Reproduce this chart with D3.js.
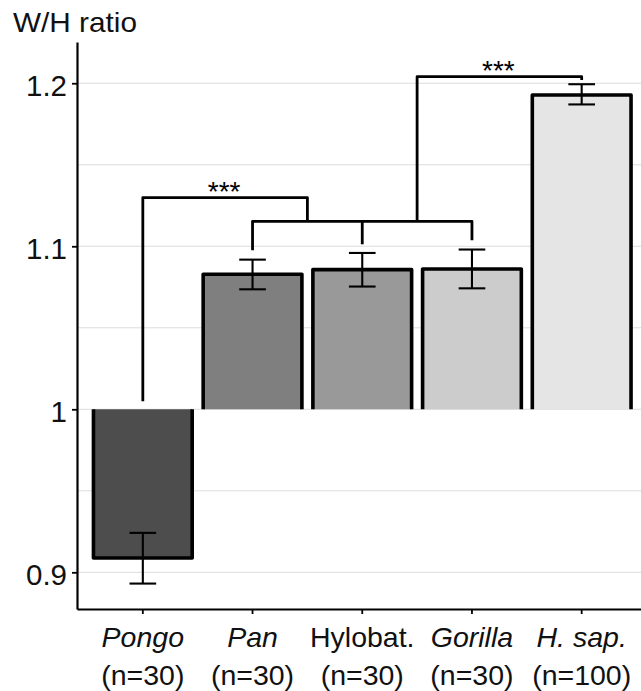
<!DOCTYPE html>
<html>
<head>
<meta charset="utf-8">
<script src="https://cdn.jsdelivr.net/npm/d3@7"></script>
<style>
  body { margin: 0; background: #fff; }
  svg { display: block; font-family: "Liberation Sans", Arial, Helvetica, sans-serif; }
</style>
</head>
<body>
<div id="chart"></div>
<script>
// data
const categories = ["Pongo", "Pan", "Hylobat.", "Gorilla", "H. sap."];
const sampleSizes = ["(n=30)", "(n=30)", "(n=30)", "(n=30)", "(n=100)"];
const italicLabel = [true, true, false, true, true];
const meanRatio = [0.9088, 1.0828, 1.0857, 1.0861, 1.1928];
const errLow = [0.8931, 1.0736, 1.0753, 1.0742, 1.1870];
const errHigh = [0.9242, 1.0918, 1.0959, 1.0980, 1.1994];
const barFills = ["#4d4d4d", "#7f7f7f", "#999999", "#cccccc", "#e5e5e5"];

const yTicks = [0.9, 1, 1.1, 1.2];
const yTickLabels = ["0.9", "1", "1.1", "1.2"];
const yMinorTicks = [0.95, 1.05, 1.15];

// comb joining the three non-human apes
const combMembers = ["Pan", "Hylobat.", "Gorilla"];
const combEnds = [1.0975, 1.1012, 1.1037];
const combLevel = 1.1153;

// significance brackets
const bracketLeft = [["Pongo"], ["Hylobat.", "Gorilla"]];
const bracketRight = [["Pan", "Hylobat."], ["H. sap."]];
const bracketLeftEnd = [1.0049, 1.1153];
const bracketRightEnd = [1.1153, 1.2020];
const bracketLevel = [1.1299, 1.2040];
const bracketLabels = ["***", "***"];

const W = 641, H = 691;
const baseline = 1;

const svg = d3.select("#chart").append("svg")
    .attr("width", W)
    .attr("height", H);

const x = d3.scaleBand()
    .domain(categories)
    .range([77, 647.5])
    .paddingInner(0.1)
    .paddingOuter(0.15);

const y = d3.scaleLinear()
    .domain([0.8775, 1.2253])
    .range([609, 42]);

const cx = c => x(c) + x.bandwidth() / 2;
const midX = list => d3.mean(list, cx);

// gridlines
svg.append("g").selectAll("line")
    .data(yMinorTicks.concat(yTicks))
    .join("line")
    .attr("x1", 77).attr("x2", W)
    .attr("y1", d => y(d)).attr("y2", d => y(d))
    .attr("stroke", "#dcdcdc")
    .attr("stroke-width", 1);

// bars (drawn from 1, no edge along the baseline)
const bars = categories.map((c, i) => ({ cat: c, v: meanRatio[i], lo: errLow[i], hi: errHigh[i], fill: barFills[i] }));

svg.append("g").selectAll("path")
    .data(bars)
    .join("path")
    .attr("d", d => {
        const x0 = x(d.cat), x1 = x0 + x.bandwidth();
        return `M${x0},${y(baseline)}L${x0},${y(d.v)}L${x1},${y(d.v)}L${x1},${y(baseline)}`;
    })
    .attr("fill", d => d.fill)
    .attr("stroke", "#000")
    .attr("stroke-width", 3.6)
    .attr("stroke-linejoin", "round");

// error bars
const capHalf = x.bandwidth() * 0.135;
const eb = svg.append("g").attr("stroke", "#000").attr("stroke-width", 2.1);
eb.selectAll(".stem").data(bars).join("line")
    .attr("x1", d => cx(d.cat)).attr("x2", d => cx(d.cat))
    .attr("y1", d => y(d.lo)).attr("y2", d => y(d.hi));
eb.selectAll(".capHi").data(bars).join("line")
    .attr("x1", d => cx(d.cat) - capHalf).attr("x2", d => cx(d.cat) + capHalf)
    .attr("y1", d => y(d.hi)).attr("y2", d => y(d.hi));
eb.selectAll(".capLo").data(bars).join("line")
    .attr("x1", d => cx(d.cat) - capHalf).attr("x2", d => cx(d.cat) + capHalf)
    .attr("y1", d => y(d.lo)).attr("y2", d => y(d.lo));

// brackets
const br = svg.append("g")
    .attr("fill", "none")
    .attr("stroke", "#000")
    .attr("stroke-width", 2.8)
    .attr("stroke-linejoin", "round");

br.append("path")
    .attr("d", `M${cx(combMembers[0])},${y(combEnds[0])}L${cx(combMembers[0])},${y(combLevel)}` +
        `L${cx(combMembers[2])},${y(combLevel)}L${cx(combMembers[2])},${y(combEnds[2])}`);
br.append("line")
    .attr("x1", cx(combMembers[1])).attr("x2", cx(combMembers[1]))
    .attr("y1", y(combLevel)).attr("y2", y(combEnds[1]));

bracketLabels.forEach((lab, i) => {
    const xl = midX(bracketLeft[i]), xr = midX(bracketRight[i]);
    br.append("path")
        .attr("d", `M${xl},${y(bracketLeftEnd[i])}L${xl},${y(bracketLevel[i])}` +
            `L${xr},${y(bracketLevel[i])}L${xr},${y(bracketRightEnd[i])}`);
    svg.append("text")
        .attr("x", (xl + xr) / 2 - 1)
        .attr("y", y(bracketLevel[i]) + 3)
        .attr("text-anchor", "middle")
        .attr("font-size", 28)
        .attr("fill", "#000")
        .text(lab);
});

// y axis
const yAxis = svg.append("g")
    .attr("transform", "translate(77,0)")
    .call(d3.axisLeft(y).tickValues(yTicks).tickFormat((d, i) => yTickLabels[i]).tickSize(5).tickSizeOuter(0).tickPadding(5));
yAxis.select(".domain").attr("stroke-width", 2.2);
yAxis.selectAll(".tick line").attr("stroke-width", 1.8);
yAxis.selectAll(".tick text")
    .attr("font-size", 29.5)
    .attr("font-family", null)
    .attr("fill", "#111")
    .attr("dy", "0.42em");

// x axis
const xAxis = svg.append("g")
    .attr("transform", "translate(0,609)")
    .call(d3.axisBottom(x).tickSize(5).tickSizeOuter(0).tickFormat(""));
xAxis.select(".domain").attr("stroke-width", 2.2);
xAxis.selectAll(".tick line").attr("stroke-width", 1.8);

const xl = svg.append("g").attr("text-anchor", "middle").attr("font-size", 28.5).attr("fill", "#111");
categories.forEach((c, i) => {
    xl.append("text")
        .attr("x", cx(c)).attr("y", 647)
        .attr("font-style", italicLabel[i] ? "italic" : "normal")
        .text(c);
    xl.append("text")
        .attr("x", cx(c)).attr("y", 685)
        .text(sampleSizes[i]);
});

// axis title
svg.append("text")
    .attr("x", 13).attr("y", 32)
    .attr("font-size", 28)
    .attr("textLength", 124)
    .attr("lengthAdjust", "spacingAndGlyphs")
    .attr("fill", "#111")
    .text("W/H ratio");
</script>
</body>
</html>
